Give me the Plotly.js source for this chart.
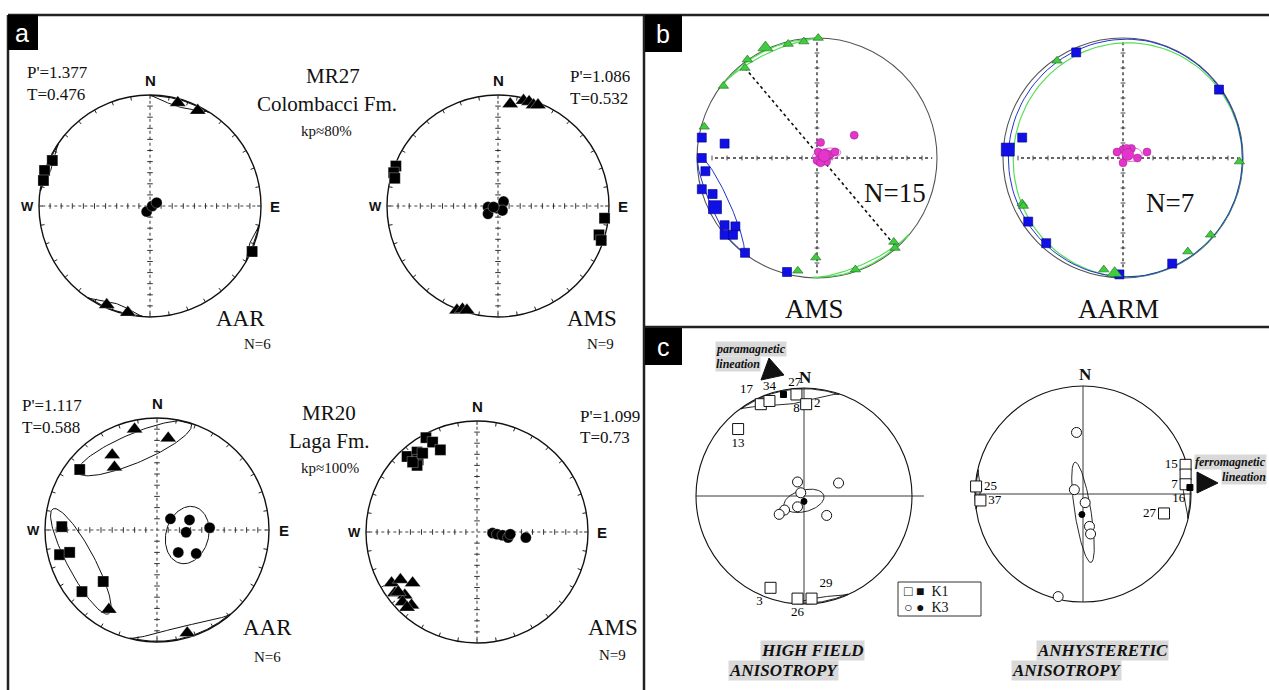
<!DOCTYPE html>
<html><head><meta charset="utf-8">
<script src="https://cdn.plot.ly/plotly-3.0.1.min.js"></script>
<style>html,body{margin:0;padding:0;background:#fff}#chart{width:1269px;height:690px}</style>
</head><body><div id="chart"></div><script>
// ===== DATA (stereonet positions, unit radius: x=East, y=North) =====
// Ellipses: [cx, cy, semi-major, semi-minor, angle°]; rim bands: [azFrom°, azTo°, depth] (math angle)
// Panel a – MR27 AAR
const MR27_AAR_K1_x=[-0.88,-0.95,-0.96,0.92], MR27_AAR_K1_y=[0.41,0.32,0.23,-0.41];
const MR27_AAR_K2_x=[0.25,0.43,-0.39,-0.20], MR27_AAR_K2_y=[0.93,0.86,-0.89,-0.96];
const MR27_AAR_K3_x=[-0.03,0.02,0.06], MR27_AAR_K3_y=[-0.05,0.0,0.03];
const MR27_AAR_bands=[[90,58,0.07],[236,266,0.07],[146,172,0.05],[-10,-30,0.04]];
// Panel a – MR27 AMS
const MR27_AMS_K1_x=[-0.92,-0.94,-0.93,0.96,0.91,0.93], MR27_AMS_K1_y=[0.36,0.30,0.25,-0.11,-0.26,-0.31];
const MR27_AMS_K2_x=[0.11,0.23,0.28,0.32,0.36,-0.37,-0.32,-0.28], MR27_AMS_K2_y=[0.92,0.95,0.94,0.91,0.91,-0.94,-0.93,-0.94];
const MR27_AMS_K3_x=[-0.09,-0.09,-0.01,0.05,0.04,-0.04], MR27_AMS_K3_y=[-0.01,-0.07,-0.02,0.04,-0.04,-0.01];
// Panel a – MR20 AAR
const MR20_AAR_K1_x=[-0.69,-0.85,-0.87,-0.78,-0.48,-0.67], MR20_AAR_K1_y=[0.54,0.03,-0.22,-0.20,-0.46,-0.55];
const MR20_AAR_K2_x=[-0.20,0.10,-0.40,-0.38,-0.43,0.27], MR20_AAR_K2_y=[0.90,0.82,0.67,0.56,-0.71,-0.92];
const MR20_AAR_K3_x=[0.12,0.29,0.26,0.47,0.19,0.35], MR20_AAR_K3_y=[0.10,0.09,-0.02,0.02,-0.20,-0.21];
const MR20_AAR_ell=[[0.27,-0.045,0.26,0.19,75],[-0.20,0.73,0.55,0.13,23],[-0.68,-0.28,0.53,0.12,-62]];
const MR20_AAR_bands=[[256,311,0.11]];
// Panel a – MR20 AMS
const MR20_AMS_K1_x=[-0.46,-0.40,-0.33,-0.63,-0.54,-0.53,-0.54,-0.58,-0.49], MR20_AMS_K1_y=[0.85,0.81,0.74,0.68,0.72,0.65,0.60,0.63,0.71];
const MR20_AMS_K2_x=[-0.77,-0.69,-0.58,-0.74,-0.65,-0.67,-0.59,-0.63,-0.71], MR20_AMS_K2_y=[-0.46,-0.43,-0.46,-0.55,-0.57,-0.63,-0.66,-0.68,-0.54];
const MR20_AMS_K3_x=[0.14,0.18,0.23,0.28,0.30,0.44], MR20_AMS_K3_y=[-0.01,-0.02,-0.03,-0.05,-0.02,-0.05];
// Panel b – AMS (N=15)
const B_AMS_K1_x=[-0.96,-0.77,-0.96,-0.93,-0.96,-0.87,-0.77,-0.68,-0.77,-0.70,-0.60,-0.25], B_AMS_K1_y=[0.17,0.12,0.0,-0.11,-0.26,-0.30,-0.56,-0.57,-0.64,-0.64,-0.79,-0.95];
const B_AMS_K1_mean=[-0.85,-0.41];
const B_AMS_K2_x=[0.01,-0.11,-0.24,-0.58,-0.60,-0.78,-0.94,-0.01,-0.16,0.32,0.64,0.65], B_AMS_K2_y=[1.0,0.97,0.95,0.82,0.75,0.60,0.26,-0.83,-0.94,-0.93,-0.70,-0.75];
const B_AMS_K2_mean=[-0.43,0.92];
const B_AMS_K3_x=[0.31,0.03,0.01,0.07,0.11,0.15,0.08,0.0,0.03,0.05], B_AMS_K3_y=[0.19,0.13,0.05,0.04,0.03,0.05,-0.03,-0.02,-0.04,0.01];
const B_AMS_K3_mean=[0.06,0.02];
const B_AMS_ell_K1=[[-0.80,-0.40,0.45,0.075,-66]], B_AMS_band_K2=[[142,88,0.035],[-92,-40,0.035]], B_AMS_ell_K3=[[0.08,0.03,0.12,0.05,10]];
const B_AMS_foliation=[[-0.60,0.75],[0.65,-0.73]];
// Panel b – AARM (N=7)
const B_AARM_K1_x=[-0.39,0.80,-0.84,-0.79,-0.64,0.41,-0.03], B_AARM_K1_y=[0.88,0.57,0.17,-0.53,-0.71,-0.88,-0.97];
const B_AARM_K1_mean=[-0.96,0.07];
const B_AARM_K2_x=[-0.55,0.97,-0.84,-0.83,0.73,0.54,-0.16], B_AARM_K2_y=[0.81,-0.03,-0.38,-0.40,-0.64,-0.78,-0.93];
const B_AARM_K2_mean=[-0.07,-0.96];
const B_AARM_K3_x=[0.0,0.07,0.20,0.12,0.0,-0.05,0.03], B_AARM_K3_y=[0.07,0.08,0.05,0.0,-0.04,0.05,0.08];
const B_AARM_K3_mean=[0.04,0.03];
const B_AARM_ell_K1=[[0.03,0.0,0.985,0.99,0]], B_AARM_ell_K2=[[0.04,-0.015,0.955,0.975,0]], B_AARM_ell_K3=[[0.06,0.03,0.10,0.06,0]];
// Panel c – High field anisotropy
const HF_K1o_x=[-0.40,-0.32,-0.07,0.02,-0.61,-0.31,-0.06,0.07], HF_K1o_y=[0.85,0.88,0.94,0.85,0.62,-0.85,-0.95,-0.95];
const HF_K1o_lab=['17','34','8','2','13','3','26','29'];
const HF_K1f_x=[-0.19], HF_K1f_y=[0.94], HF_K1f_lab=['27'];
const HF_K3o_x=[-0.06,0.32,-0.03,-0.06,-0.18,-0.23,0.21], HF_K3o_y=[0.13,0.12,0.03,-0.10,-0.13,-0.17,-0.18];
const HF_K3f_x=[0.0], HF_K3f_y=[-0.05];
const HF_ell=[[0.0,-0.045,0.19,0.10,15]];
const HF_bands=[[126,71,0.14],[264,294,0.05]];
// Panel c – Anhysteretic anisotropy
const ARM_K1o_x=[-0.99,-0.95,0.95,0.95,0.95,0.75], ARM_K1o_y=[0.07,-0.06,0.27,0.18,0.09,-0.18];
const ARM_K1o_lab=['25','37','15','','7','27'];
const ARM_K1f_x=[0.99], ARM_K1f_y=[0.06], ARM_K1f_lab=['16'];
const ARM_K3o_x=[-0.06,-0.08,0.02,0.06,0.07,-0.23], ARM_K3o_y=[0.57,0.04,-0.08,-0.30,-0.37,-0.95];
const ARM_K3f_x=[-0.01], ARM_K3f_y=[-0.19];
const ARM_ell=[[0.0,-0.17,0.47,0.075,99]];
const ARM_bands=[[19,-13,0.07],[167,188,0.05]];

// ===== LAYOUT GEOMETRY =====
const W=1269,H=690,K=1.13;
const NETS=[
 {cx:150,cy:206,r:111,s:'a'},{cx:498,cy:206,r:111,s:'a'},
 {cx:157,cy:530,r:112,s:'a'},{cx:477,cy:532,r:111,s:'a'},
 {cx:817,cy:158,r:120,s:'b'},{cx:1123,cy:158,r:120,s:'b'},
 {cx:804,cy:496,r:108,s:'c'},{cx:1083,cy:494,r:108,s:'c'}];
const SERIF='Liberation Serif, Times New Roman, serif', SANS='Liberation Sans, Arial, sans-serif';
const layout={width:W,height:H,margin:{l:0,r:0,t:0,b:0},paper_bgcolor:'#fff',plot_bgcolor:'rgba(0,0,0,0)',showlegend:false,shapes:[],annotations:[]};
const traces=[];
const ax=i=>({x:'x'+(i+1),y:'y'+(i+1)});
NETS.forEach((n,i)=>{
  const sx=i===0?'':(i+1);
  layout['xaxis'+sx]={domain:[(n.cx-K*n.r)/W,(n.cx+K*n.r)/W],range:[-K,K],visible:false,fixedrange:true,anchor:'y'+(i+1)};
  layout['yaxis'+sx]={domain:[1-(n.cy+K*n.r)/H,1-(n.cy-K*n.r)/H],range:[-K,K],visible:false,fixedrange:true,anchor:'x'+(i+1)};
});
const px=x=>x/W, py=y=>1-y/H;

function line(i,xs,ys,color,width,dash){traces.push({type:'scatter',mode:'lines',xaxis:ax(i).x,yaxis:ax(i).y,x:xs,y:ys,line:{color:color,width:width,dash:dash||'solid'},hoverinfo:'skip'});}
function pts(i,xs,ys,symbol,size,fill,lc,lw,text,tpos,tsize){
  const t={type:'scatter',mode:text?'markers+text':'markers',xaxis:ax(i).x,yaxis:ax(i).y,x:xs,y:ys,cliponaxis:false,
    marker:{symbol:symbol,size:size,color:fill,line:{color:lc,width:lw}}};
  if(text){t.text=text;t.textposition=tpos;t.textfont={family:SERIF,size:tsize||13,color:'#000'};}
  traces.push(t);
}
function ellipses(i,list,color,width){
  list.forEach(e=>{
    const [cx,cy,a,b,ang]=e, A=ang*Math.PI/180, xs=[], ys=[];
    for(let k=0;k<=120;k++){const t=2*Math.PI*k/120;
      let x=cx+a*Math.cos(t)*Math.cos(A)-b*Math.sin(t)*Math.sin(A);
      let y=cy+a*Math.cos(t)*Math.sin(A)+b*Math.sin(t)*Math.cos(A);
      const r=Math.hypot(x,y); if(r>0.995){x*=0.995/r;y*=0.995/r;}
      xs.push(x);ys.push(y);}
    line(i,xs,ys,color,width);
  });
}
function bands(i,list,color,width){
  list.forEach(b=>{
    const [a1,a2,d]=b, xs=[], ys=[], N=60;
    for(let k=0;k<=N;k++){const t=k/N, a=(a1+(a2-a1)*t)*Math.PI/180, r=1-d*Math.sin(Math.PI*t);
      xs.push(r*Math.cos(a)); ys.push(r*Math.sin(a));}
    for(let k=N;k>=0;k--){const t=k/N, a=(a1+(a2-a1)*t)*Math.PI/180, r=0.993;
      xs.push(r*Math.cos(a)); ys.push(r*Math.sin(a));}
    line(i,xs,ys,color,width);
  });
}
// Net frames
NETS.forEach((n,i)=>{
  const c=n.s==='b'?'#555':'#111';
  layout.shapes.push({type:'circle',xref:ax(i).x,yref:ax(i).y,x0:-1,x1:1,y0:-1,y1:1,line:{color:c,width:n.s==='a'?1.4:1.1},layer:'below'});
  if(n.s==='a'){
    const xs=[],ys=[];
    for(let d=0;d<360;d+=10){const a=d*Math.PI/180;xs.push(Math.cos(a),0.965*Math.cos(a),null);ys.push(Math.sin(a),0.965*Math.sin(a),null);}
    line(i,xs,ys,'#222',1);
    line(i,[-0.97,0.97],[0,0],'#444',1.1,'dot');
    line(i,[0,0],[-0.97,0.97],'#444',1.1,'dot');
    const tx=[],ty=[],vx=[],vy=[];
    for(let k=1;k<=9;k++){const v=k/10;
      [v,-v].forEach(s=>{tx.push(s,s,null);ty.push(-0.025,0.025,null);vx.push(-0.025,0.025,null);vy.push(s,s,null);});}
    line(i,tx,ty,'#333',1);line(i,vx,vy,'#333',1);
  } else if(n.s==='b'){
    line(i,[-0.85,0.96],[0,0],'#333',1.4,'dot');
    line(i,[0,0],[-0.96,0.97],'#333',1.4,'dot');
    const tx=[],ty=[],vx=[],vy=[];
    for(let k=1;k<=7;k++){const v=k/8;
      [v,-v].forEach(s=>{tx.push(s,s,null);ty.push(-0.02,0.02,null);vx.push(-0.02,0.02,null);vy.push(s,s,null);});}
    line(i,tx,ty,'#444',1);line(i,vx,vy,'#444',1);
  } else {
    line(i,[-1,i===6?1.11:1],[0,0],'#222',0.9);
    line(i,[0,0],[-1,1],'#222',0.9);
  }
});

// ===== Panel a =====
const BLK='#000';
bands(0,MR27_AAR_bands,'#111',1); bands(2,MR20_AAR_bands,'#111',1); ellipses(2,MR20_AAR_ell,'#111',1);
[[0,MR27_AAR_K1_x,MR27_AAR_K1_y,MR27_AAR_K2_x,MR27_AAR_K2_y,MR27_AAR_K3_x,MR27_AAR_K3_y],
 [1,MR27_AMS_K1_x,MR27_AMS_K1_y,MR27_AMS_K2_x,MR27_AMS_K2_y,MR27_AMS_K3_x,MR27_AMS_K3_y],
 [2,MR20_AAR_K1_x,MR20_AAR_K1_y,MR20_AAR_K2_x,MR20_AAR_K2_y,MR20_AAR_K3_x,MR20_AAR_K3_y],
 [3,MR20_AMS_K1_x,MR20_AMS_K1_y,MR20_AMS_K2_x,MR20_AMS_K2_y,MR20_AMS_K3_x,MR20_AMS_K3_y]].forEach(d=>{
  const [i,k1x,k1y,k2x,k2y,k3x,k3y]=d;
  pts(i,k1x,k1y,'square',11,BLK,'#fff',0.3);
  pts(i,k2x,k2y,'triangle-up',14,BLK,'#fff',0.3);
  pts(i,k3x,k3y,'circle',11,BLK,'#fff',0.3);
});
// ===== Panel b =====
const BLUE='#1010e6', GREEN='#3fcc3f', MAG='#e633cc';
ellipses(4,B_AMS_ell_K1,'#2233cc',1); bands(4,B_AMS_band_K2,'#55dd55',1.2); ellipses(4,B_AMS_ell_K3,'#ee66dd',1);
line(4,B_AMS_foliation.map(p=>p[0]),B_AMS_foliation.map(p=>p[1]),'#111',1.6,'dot');
ellipses(5,B_AARM_ell_K2,'#55dd55',1.2); ellipses(5,B_AARM_ell_K1,'#2233cc',1); ellipses(5,B_AARM_ell_K3,'#ee66dd',1);
[[4,B_AMS_K1_x,B_AMS_K1_y,B_AMS_K1_mean,B_AMS_K2_x,B_AMS_K2_y,B_AMS_K2_mean,B_AMS_K3_x,B_AMS_K3_y,B_AMS_K3_mean],
 [5,B_AARM_K1_x,B_AARM_K1_y,B_AARM_K1_mean,B_AARM_K2_x,B_AARM_K2_y,B_AARM_K2_mean,B_AARM_K3_x,B_AARM_K3_y,B_AARM_K3_mean]].forEach(d=>{
  const [i,k1x,k1y,m1,k2x,k2y,m2,k3x,k3y,m3]=d;
  pts(i,k1x,k1y,'square',9,BLUE,'#000080',0.6);
  pts(i,[m1[0]],[m1[1]],'square',13,BLUE,'#000080',0.6);
  pts(i,k2x,k2y,'triangle-up',9,GREEN,'#1a661a',0.6);
  pts(i,[m2[0]],[m2[1]],'triangle-up',13,GREEN,'#1a661a',0.6);
  pts(i,k3x,k3y,'circle',8,MAG,'#8a2a80',0.5);
  pts(i,[m3[0]],[m3[1]],'circle',12,MAG,'#8a2a80',0.5);
});
// ===== Panel c =====
ellipses(6,HF_ell,'#111',0.9); bands(6,HF_bands,'#111',0.9);
ellipses(7,ARM_ell,'#111',0.9); bands(7,ARM_bands,'#111',0.9);
pts(6,HF_K1o_x,HF_K1o_y,'square',11,'#fff','#111',1,HF_K1o_lab,['top left','top center','bottom center','middle right','bottom center','bottom left','bottom center','top right']);
pts(6,HF_K1f_x,HF_K1f_y,'square',6,'#000','#000',1,HF_K1f_lab,['top right']);
pts(6,HF_K3o_x,HF_K3o_y,'circle',10,'#fff','#111',1);
pts(6,HF_K3f_x,HF_K3f_y,'circle',6,'#000','#000',1);
pts(7,ARM_K1o_x,ARM_K1o_y,'square',11,'#fff','#111',1,ARM_K1o_lab,['middle right','middle right','middle left','middle left','middle left','middle left']);
pts(7,ARM_K1f_x,ARM_K1f_y,'square',6,'#000','#000',1,ARM_K1f_lab,['bottom left']);
pts(7,ARM_K3o_x,ARM_K3o_y,'circle',10,'#fff','#111',1);
pts(7,ARM_K3f_x,ARM_K3f_y,'circle',6,'#000','#000',1);

// ===== Annotations =====
const A=layout.annotations;
function pa(x,y,text,size,opts){A.push(Object.assign({xref:'paper',yref:'paper',x:px(x),y:py(y),text:text,showarrow:false,
  font:{family:SERIF,size:size,color:'#111'},xanchor:'center',yanchor:'middle'},opts||{}));}
function na(i,x,y,text,size,opts){A.push(Object.assign({xref:ax(i).x,yref:ax(i).y,x:x,y:y,text:text,showarrow:false,
  font:{family:SANS,size:size,color:'#111'},xanchor:'center',yanchor:'middle'},opts||{}));}
[0,1,2,3].forEach(i=>{
  na(i,0,1.13,'<b>N</b>',15); na(i,0,-1.145,'<b>S</b>',15);
  na(i,-1.1,0,'<b>W</b>',13); na(i,1.13,0,'<b>E</b>',15);
});
pa(25,73,"P'=1.377",17,{xanchor:'left'}); pa(25,95,'T=0.476',17,{xanchor:'left'});
pa(568,77,"P'=1.086",17,{xanchor:'left'}); pa(568,98,'T=0.532',17,{xanchor:'left'});
pa(333,76,'MR27',21); pa(327,104,'Colombacci Fm.',21); pa(326,131,'kp≈80%',15);
pa(240,318,'AAR',23); pa(257,344,'N=6',15);
pa(592,318,'AMS',23); pa(600,344,'N=9',15);
pa(20,405,"P'=1.117",17,{xanchor:'left'}); pa(20,427,'T=0.588',17,{xanchor:'left'});
pa(578,416,"P'=1.099",17,{xanchor:'left'}); pa(578,437,'T=0.73',17,{xanchor:'left'});
pa(329,413,'MR20',21); pa(329,441,'Laga Fm.',21); pa(330,468,'kp≈100%',15);
pa(267,627,'AAR',23); pa(267,657,'N=6',15);
pa(613,627,'AMS',23); pa(612,655,'N=9',15);
// panel b
pa(895,193,'N=15',27); pa(814,309,'AMS',27);
pa(1170,203,'N=7',27); pa(1118,309,'AARM',27);
// panel c
const GBG='#d9d9d9';
pa(805,377,'<b>N</b>',17); pa(1085,374,'<b>N</b>',17);
pa(715,349,'<b><i>paramagnetic</i></b>',12,{xanchor:'left',bgcolor:GBG,borderpad:0});
pa(715,364,'<b><i>lineation</i></b>',12,{xanchor:'left',bgcolor:GBG,borderpad:0});
pa(1267,462,'<b><i>ferromagnetic</i></b>',12,{xanchor:'right',bgcolor:GBG,borderpad:0});
pa(1267,477,'<b><i>lineation</i></b>',12,{xanchor:'right',bgcolor:GBG,borderpad:0});
pa(812,650,'<b><i>HIGH FIELD</i></b>',17,{bgcolor:GBG,borderpad:0});
pa(783,670,'<b><i>ANISOTROPY</i></b>',17,{bgcolor:GBG,borderpad:0});
pa(1102,650,'<b><i>ANHYSTERETIC</i></b>',17,{bgcolor:GBG,borderpad:0});
pa(1066,670,'<b><i>ANISOTROPY</i></b>',17,{bgcolor:GBG,borderpad:0});
pa(902,591,'□ ■  K1',14,{xanchor:'left'});
pa(902,607,'○ ●  K3',14,{xanchor:'left'});
// panel letters
pa(22,33,'a',25,{font:{family:SANS,size:25,color:'#fff'}});
pa(663,34,'b',25,{font:{family:SANS,size:25,color:'#fff'}});
pa(663,347,'c',25,{font:{family:SANS,size:25,color:'#fff'}});

// ===== Shapes (panel frames, label boxes, legend box, arrows) =====
const S=layout.shapes;
const pl=(x0,y0,x1,y1,w,c)=>S.push({type:'line',xref:'paper',yref:'paper',x0:px(x0),y0:py(y0),x1:px(x1),y1:py(y1),line:{color:c||'#222',width:w}});
pl(8,15,1269,15,2.5); pl(8,15,8,690,2.5); pl(644,15,644,690,2.5); pl(644,327,1269,327,2.5);
const rect=(x0,y0,x1,y1,fill,lc,lw)=>S.push({type:'rect',xref:'paper',yref:'paper',x0:px(x0),y0:py(y0),x1:px(x1),y1:py(y1),fillcolor:fill,line:{color:lc,width:lw}});
rect(8,15,38,50,'#000','#000',0); rect(645,15,682,52,'#000','#000',0); rect(645,328,682,365,'#000','#000',0);
rect(898,582,981,616,'rgba(0,0,0,0)','#333',1);
const tri=(p)=>'M '+p.map(q=>px(q[0])+','+py(q[1])).join(' L ')+' Z';
S.push({type:'path',xref:'paper',yref:'paper',path:tri([[769,358],[761,380],[784,375]]),fillcolor:'#111',line:{color:'#111',width:1}});
S.push({type:'path',xref:'paper',yref:'paper',path:tri([[1197,472],[1197,493],[1218,483]]),fillcolor:'#111',line:{color:'#111',width:1}});

Plotly.newPlot('chart',traces,layout,{staticPlot:true,displayModeBar:false});
</script></body></html>
